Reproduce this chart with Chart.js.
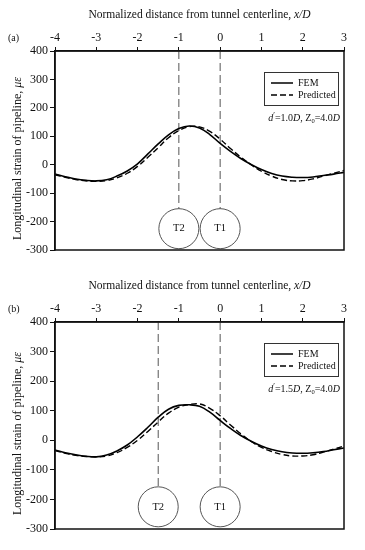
<!DOCTYPE html>
<html>
<head>
<meta charset="utf-8">
<script src="https://cdn.jsdelivr.net/npm/chart.js@4.4.0/dist/chart.umd.min.js"></script>
<style>
  body { margin: 0; background: #fff; width: 365px; height: 550px; overflow: hidden; }
  .panel { position: absolute; left: 0; }
  canvas { display: block; }
</style>
</head>
<body>
<div class="panel" style="top:0"><canvas id="chartA" width="365" height="271"></canvas></div>
<div class="panel" style="top:271px"><canvas id="chartB" width="365" height="279"></canvas></div>
<script>
// normalized distance x/D
const xDist = [-4, -3.75, -3.5, -3.25, -3, -2.75, -2.5, -2.25, -2, -1.75, -1.5, -1.25, -1, -0.75, -0.5, -0.25,
  0, 0.25, 0.5, 0.75, 1, 1.25, 1.5, 1.75, 2, 2.25, 2.5, 2.75, 3];

// panel (a): d = 1.0D
const femA  = [-33, -42, -50, -55, -57, -53, -40, -22, 3, 38, 73, 105, 127, 136, 129, 106,
  75, 47, 22, 1, -17, -31, -40, -44, -45, -43, -38, -33, -27];
const predA = [-35, -44, -52, -57, -58, -56, -46, -30, -6, 26, 60, 95, 120, 134, 133, 117,
  90, 57, 27, 0, -23, -40, -52, -57, -56, -50, -40, -30, -20];

// panel (b): d = 1.5D
const femB  = [-33, -42, -49, -54, -56, -50, -36, -16, 12, 44, 78, 105, 118, 120, 115, 95,
  67, 40, 16, -3, -19, -31, -39, -43, -44, -42, -38, -32, -26];
const predB = [-35, -44, -51, -55, -56, -53, -42, -24, 0, 30, 62, 92, 112, 121, 123, 108,
  83, 52, 22, -4, -24, -38, -48, -53, -53, -49, -40, -30, -19];

// tunnel positions (T2, T1)
const tunnelNames = ["T2", "T1"];
const tunnelsA = [-1, 0];
const tunnelsB = [-1.5, 0];
const tunnelY = -225;      // circle centre
const tunnelLineTop = 400;
const tunnelLineEnd = -158;

const xTicks = [-4, -3, -2, -1, 0, 1, 2, 3];
const yTicks = [-300, -200, -100, 0, 100, 200, 300, 400];

const SERIF = "'Liberation Serif', 'Times New Roman', serif";

// draws a list of [text, italic, shift, size] pieces in a row
const drawParts = (ctx, parts, x, y, align) => {
  let total = 0;
  parts.forEach(p => {
    ctx.font = (p[1] ? "italic " : "") + (p[3] || 12) + "px " + SERIF;
    total += ctx.measureText(p[0]).width;
  });
  let cx = align === "center" ? x - total / 2 : align === "right" ? x - total : x;
  parts.forEach(p => {
    ctx.font = (p[1] ? "italic " : "") + (p[3] || 12) + "px " + SERIF;
    ctx.textAlign = "left";
    ctx.fillText(p[0], cx, y + (p[2] || 0));
    cx += ctx.measureText(p[0]).width;
  });
};

const decorPlugin = {
  id: "decor",
  afterDraw(chart, args, opts) {
    const ctx = chart.ctx;
    const a = chart.chartArea;
    const xs = chart.scales.x, ys = chart.scales.y;
    ctx.save();
    ctx.fillStyle = "#111";
    ctx.strokeStyle = "#111";
    // frame
    ctx.lineWidth = 1.5;
    ctx.strokeRect(a.left, a.top, a.right - a.left, a.bottom - a.top);

    // axis titles
    ctx.textBaseline = "middle";
    drawParts(ctx, [["Normalized distance from tunnel centerline, ", false, 0, 11.5], ["x/D", true, 0, 11.5]],
      (a.left + a.right) / 2, 15, "center");
    ctx.save();
    ctx.translate(18, (a.top + a.bottom) / 2 + 8);
    ctx.rotate(-Math.PI / 2);
    drawParts(ctx, [["Longitudinal strain of pipeline, ", false], ["\u03BC\u03B5", true]], 0, 0, "center");
    ctx.restore();

    // panel letter
    ctx.font = "10px " + SERIF;
    ctx.textAlign = "left";
    ctx.fillText(opts.letter, 8, 38);

    // tunnel labels
    ctx.font = "10.5px " + SERIF;
    ctx.textAlign = "center";
    opts.tunnels.forEach((t, i) => {
      ctx.fillText(tunnelNames[i], xs.getPixelForValue(t), ys.getPixelForValue(tunnelY));
    });

    // legend box
    const bx = 264, by = 72, bw = 74, bh = 33;
    ctx.lineWidth = 1;
    ctx.strokeStyle = "#333";
    ctx.strokeRect(bx + 0.5, by + 0.5, bw, bh);
    ctx.strokeStyle = "#000";
    ctx.lineWidth = 1.5;
    ctx.beginPath();
    ctx.moveTo(bx + 7, by + 11); ctx.lineTo(bx + 29, by + 11);
    ctx.stroke();
    ctx.setLineDash([6, 3]);
    ctx.beginPath();
    ctx.moveTo(bx + 7, by + 23); ctx.lineTo(bx + 29, by + 23);
    ctx.stroke();
    ctx.setLineDash([]);
    ctx.font = "10px " + SERIF;
    ctx.textAlign = "left";
    ctx.fillText("FEM", bx + 34, by + 11);
    ctx.fillText("Predicted", bx + 34, by + 23);

    // case annotation
    drawParts(ctx, [
      ["d", true, 0, 10], ["\u2032", false, -2, 8], ["=" + opts.spacing, false, 0, 10], ["D", true, 0, 10],
      [", Z", false, 0, 10], ["0", false, 3, 6.5], ["=4.0", false, 0, 10], ["D", true, 0, 10]
    ], 340, 118, "right");
    ctx.restore();
  }
};

const makeChart = (id, fem, pred, tunnels, letter, spacing, bottomPad) => {
  const curve = (vals) => xDist.map((x, i) => ({ x: x, y: vals[i] }));
  const datasets = [
    {
      type: "line", label: "FEM", data: curve(fem), order: 0,
      borderColor: "#000", borderWidth: 1.6, pointRadius: 0, tension: 0.4, fill: false
    },
    {
      type: "line", label: "Predicted", data: curve(pred), order: 0,
      borderColor: "#000", borderWidth: 1.4, borderDash: [6, 3], pointRadius: 0, tension: 0.4, fill: false
    },
    {
      type: "bubble", label: "tunnels", order: 1,
      data: tunnels.map(t => ({ x: t, y: tunnelY, r: 20 })),
      backgroundColor: "#fff", borderColor: "#555", borderWidth: 1
    }
  ];
  tunnels.forEach(t => datasets.push({
    type: "line", label: "axis", order: 2,
    data: [{ x: t, y: tunnelLineTop }, { x: t, y: tunnelLineEnd }],
    borderColor: "#555", borderWidth: 1, borderDash: [8, 4], pointRadius: 0
  }));

  return new Chart(document.getElementById(id), {
    type: "line",
    data: { datasets },
    plugins: [decorPlugin],
    options: {
      responsive: false,
      animation: false,
      layout: { padding: { top: 0, left: 0, right: 16, bottom: bottomPad } },
      plugins: {
        legend: { display: false },
        tooltip: { enabled: false },
        decor: { letter: letter, spacing: spacing, tunnels: tunnels }
      },
      scales: {
        x: {
          type: "linear", position: "top", min: -4, max: 3,
          afterBuildTicks: s => { s.ticks = xTicks.map(v => ({ value: v })); },
          afterFit: s => { s.height = 51; },
          ticks: { color: "#111", font: { family: SERIF, size: 12 }, padding: 2 },
          grid: { drawOnChartArea: false, tickLength: 4, color: "#111" },
          border: { color: "#111", width: 1.5 }
        },
        y: {
          type: "linear", min: -300, max: 400,
          afterBuildTicks: s => { s.ticks = yTicks.map(v => ({ value: v })); },
          afterFit: s => { s.width = 55; },
          ticks: { color: "#111", font: { family: SERIF, size: 12 }, padding: 2 },
          grid: { drawOnChartArea: false, tickLength: 5, color: "#111" },
          border: { color: "#111", width: 1.5 }
        }
      }
    }
  });
};

makeChart("chartA", femA, predA, tunnelsA, "(a)", "1.0", 11);
makeChart("chartB", femB, predB, tunnelsB, "(b)", "1.5", 18);
</script>
</body>
</html>
